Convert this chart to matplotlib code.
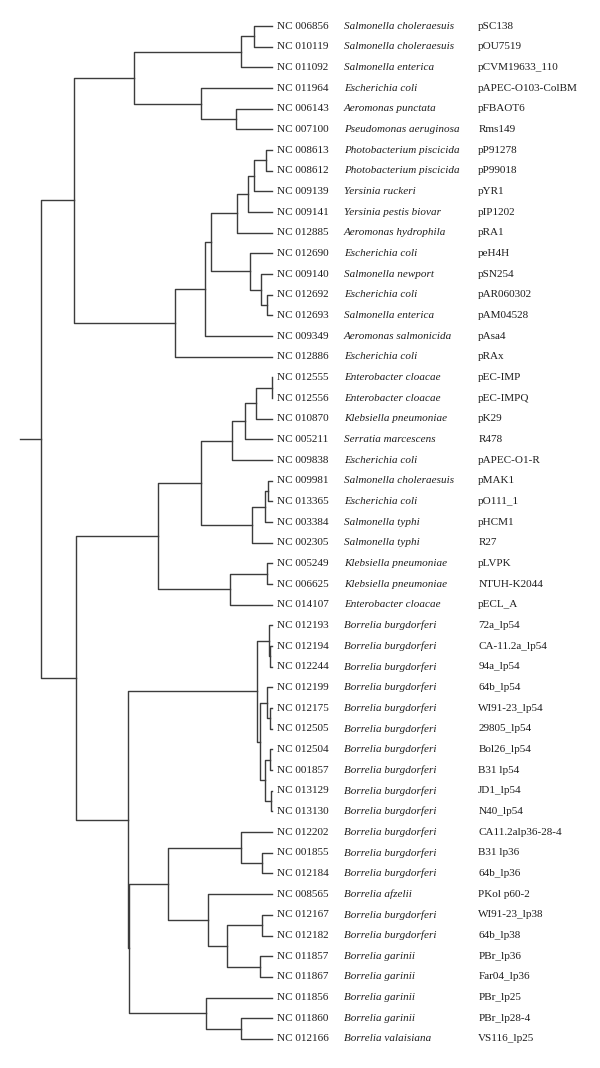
import matplotlib
matplotlib.use("Agg")
import matplotlib.pyplot as plt

# plasmid tree, leaves from top to bottom
accessions = [
    "NC 006856", "NC 010119", "NC 011092", "NC 011964", "NC 006143",
    "NC 007100", "NC 008613", "NC 008612", "NC 009139", "NC 009141",
    "NC 012885", "NC 012690", "NC 009140", "NC 012692", "NC 012693",
    "NC 009349", "NC 012886", "NC 012555", "NC 012556", "NC 010870",
    "NC 005211", "NC 009838", "NC 009981", "NC 013365", "NC 003384",
    "NC 002305", "NC 005249", "NC 006625", "NC 014107", "NC 012193",
    "NC 012194", "NC 012244", "NC 012199", "NC 012175", "NC 012505",
    "NC 012504", "NC 001857", "NC 013129", "NC 013130", "NC 012202",
    "NC 001855", "NC 012184", "NC 008565", "NC 012167", "NC 012182",
    "NC 011857", "NC 011867", "NC 011856", "NC 011860", "NC 012166",
]
species = [
    "Salmonella choleraesuis", "Salmonella choleraesuis", "Salmonella enterica",
    "Escherichia coli", "Aeromonas punctata", "Pseudomonas aeruginosa",
    "Photobacterium piscicida", "Photobacterium piscicida", "Yersinia ruckeri",
    "Yersinia pestis biovar", "Aeromonas hydrophila", "Escherichia coli",
    "Salmonella newport", "Escherichia coli", "Salmonella enterica",
    "Aeromonas salmonicida", "Escherichia coli", "Enterobacter cloacae",
    "Enterobacter cloacae", "Klebsiella pneumoniae", "Serratia marcescens",
    "Escherichia coli", "Salmonella choleraesuis", "Escherichia coli",
    "Salmonella typhi", "Salmonella typhi", "Klebsiella pneumoniae",
    "Klebsiella pneumoniae", "Enterobacter cloacae",
] + ["Borrelia burgdorferi"] * 13 + [
    "Borrelia afzelii", "Borrelia burgdorferi", "Borrelia burgdorferi",
    "Borrelia garinii", "Borrelia garinii", "Borrelia garinii",
    "Borrelia garinii", "Borrelia valaisiana",
]
plasmids = [
    "pSC138", "pOU7519", "pCVM19633_110", "pAPEC-O103-ColBM", "pFBAOT6",
    "Rms149", "pP91278", "pP99018", "pYR1", "pIP1202", "pRA1", "peH4H",
    "pSN254", "pAR060302", "pAM04528", "pAsa4", "pRAx", "pEC-IMP",
    "pEC-IMPQ", "pK29", "R478", "pAPEC-O1-R", "pMAK1", "pO111_1", "pHCM1",
    "R27", "pLVPK", "NTUH-K2044", "pECL_A", "72a_lp54", "CA-11.2a_lp54",
    "94a_lp54", "64b_lp54", "WI91-23_lp54", "29805_lp54", "Bol26_lp54",
    "B31 lp54", "JD1_lp54", "N40_lp54", "CA11.2alp36-28-4", "B31 lp36",
    "64b_lp36", "PKol p60-2", "WI91-23_lp38", "64b_lp38", "PBr_lp36",
    "Far04_lp36", "PBr_lp25", "PBr_lp28-4", "VS116_lp25",
]

# internal nodes: [height, child, child]; ints are leaf indices
tree = [1.000,
        [0.857,
         [0.597,
          [0.134, [0.078, 0, 1], 2],
          [0.307, 3, [0.156, 4, 5]]],
         [0.420,
          [0.290,
           [0.264,
            [0.152, [0.104, [0.078, [0.026, 6, 7], 8], 9], 10],
            [0.095, 11, [0.048, 12, [0.022, 13, 14]]]],
           15],
          16]],
        [0.848,
         [0.494,
          [0.307,
           [0.173, [0.117, [0.069, [0.002, 17, 18], 19], 20], 21],
           [0.087, [0.030, [0.017, 22, 23], 24], 25]],
          [0.182, [0.022, 26, 27], 28]],
         [0.623,
          [0.065,
           [0.015, 29, [0.009, 30, 31]],
           [0.052,
            [0.022, 32, [0.009, 33, 34]],
            [0.030, [0.009, 35, 36], [0.006, 37, 38]]]],
          [0.617,
           [0.450,
            [0.134, 39, [0.043, 40, 41]],
            [0.277, 42, [0.195, [0.043, 43, 44], [0.052, 45, 46]]]],
           [0.286, 47, [0.134, 48, 49]]]]]]
root_stub = 0.091

line_color = "#3c3c3c"
text_color = "#1e1e1e"

fig = plt.figure(figsize=(6, 10.68), dpi=100)
ax = fig.add_axes([0, 0, 1, 1])
ax.set_xlim(1.1775, -1.42)
ax.set_ylim(50.41, -1.258)
ax.axis("off")


def draw(node):
    # returns (height, y) of the node after drawing its subtree
    if isinstance(node, int):
        return 0.0, node
    h = node[0]
    kids = [draw(c) for c in node[1:]]
    (h1, y1), (h2, y2) = kids[0], kids[-1]
    ax.plot([h1, h, h, h2], [y1, y1, y2, y2], color=line_color, lw=1.0)
    return h, (y1 + y2) / 2


h, y = draw(tree)
ax.plot([h + root_stub, h], [y, y], color=line_color, lw=1.0)

fs = 8
tr = ax.get_yaxis_transform()
for i in range(len(accessions)):
    ax.text(0.461, i, accessions[i], transform=tr, ha="left", va="center",
            fontsize=fs, family="Liberation Serif", color=text_color)
    ax.text(0.573, i, species[i], transform=tr, ha="left", va="center",
            fontsize=fs, family="Liberation Serif", style="italic",
            color=text_color)
    ax.text(0.797, i, plasmids[i], transform=tr, ha="left", va="center",
            fontsize=fs, family="Liberation Serif", color=text_color)

fig.savefig("out.png", dpi=100)
